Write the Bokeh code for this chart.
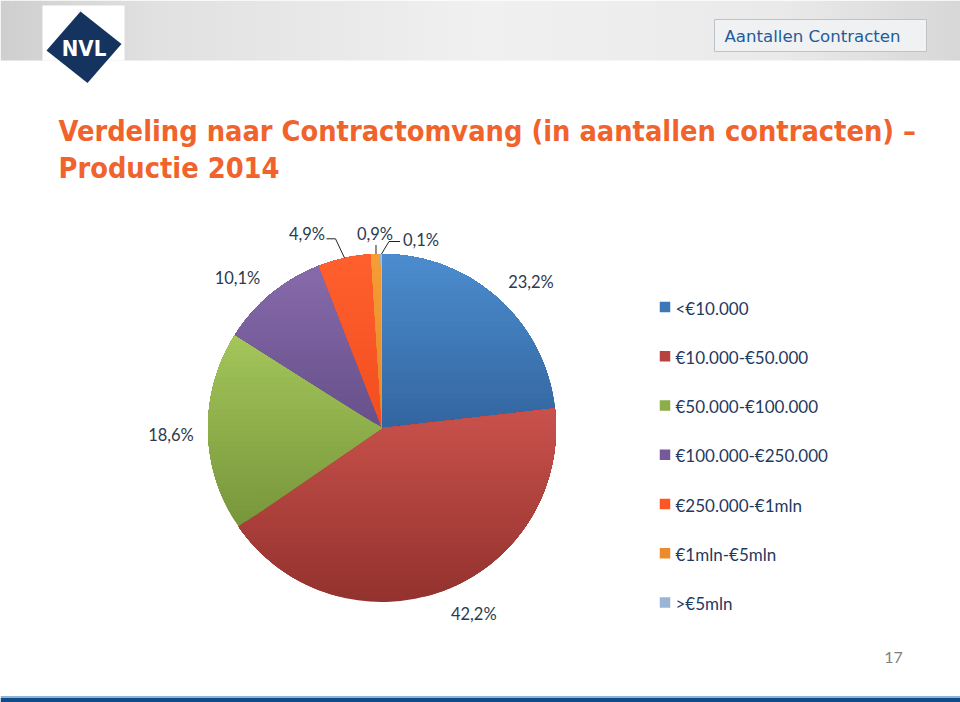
import numpy as np
from bokeh.plotting import figure
from bokeh.models import ColumnDataSource, Range1d
from bokeh.core.properties import value
from bokeh.embed import file_html
from bokeh.resources import INLINE

# ---------------- data ----------------
categories = ["<€10.000", "€10.000-€50.000", "€50.000-€100.000", "€100.000-€250.000",
              "€250.000-€1mln", "€1mln-€5mln", ">€5mln"]
shares = [23.2, 42.2, 18.6, 10.1, 4.9, 0.9, 0.1]
share_labels = ["23,2%", "42,2%", "18,6%", "10,1%", "4,9%", "0,9%", "0,1%"]
title_lines = ["Verdeling naar Contractomvang (in aantallen contracten) –", "Productie 2014"]
header_tag = "Aantallen Contracten"
page_number = "17"

# ---------------- styles ----------------
top_cols = ["#4C8CCE", "#C9514B", "#A3C55A", "#876AAB", "#FF5F2D", "#F69D36", "#A8C0E0"]
bot_cols = ["#3366A0", "#93322E", "#78963B", "#66508A", "#F24E20", "#E4882A", "#8CA6CB"]
leg_cols = ["#3C78B7", "#B8423D", "#8CAD4A", "#76599B", "#FC5526", "#EB8B2D", "#9AB4D6"]

W, H = 960, 702
def Y(py):
    return H - py

p = figure(width=W, height=H, output_backend="svg", toolbar_location=None,
           x_range=Range1d(0, W), y_range=Range1d(0, H),
           min_border=0, min_border_left=0, min_border_right=0,
           min_border_top=0, min_border_bottom=0)
p.axis.visible = False
p.xgrid.visible = False
p.ygrid.visible = False
p.outline_line_color = None
p.background_fill_color = "white"
p.border_fill_color = "white"

def hexc(c):
    return np.array([int(c[i:i + 2], 16) for i in (1, 3, 5)], dtype=float)

def tohex(a):
    a = np.clip(np.round(a), 0, 255).astype(int)
    return "#%02x%02x%02x" % tuple(a)

# ---------------- header band ----------------
xs_edges = np.arange(0, 961, 8)
gx = [0, 160, 480, 780, 960]
gv = [0xCF, 0xE1, 0xF0, 0xEA, 0xD7]
hcols = []
for i in range(len(xs_edges) - 1):
    g = np.interp((xs_edges[i] + xs_edges[i + 1]) / 2, gx, gv)
    hcols.append(tohex([g, g, g]))
p.quad(left=xs_edges[:-1], right=xs_edges[1:] + 0.6, top=Y(0), bottom=Y(60),
       fill_color=hcols, line_color=None)

# logo
p.quad(left=42, right=124, top=Y(5), bottom=Y(60), fill_color="white", line_color=None)
p.patch(x=[80, 121, 87, 46], y=[Y(11), Y(43.5), Y(82.5), Y(50)],
        fill_color="#14335F", line_color=None)
p.text(x=[83.5], y=[Y(48)], text=["NVL"], text_font=value("DejaVu Sans Condensed"),
       text_font_style="bold", text_font_size="22px", text_color="white",
       text_align="center", text_baseline="middle")

# tag box
p.quad(left=714, right=926, top=Y(19), bottom=Y(51), fill_color="#EFF1F3",
       line_color="#BEC2C6", line_width=1)
p.text(x=[724], y=[Y(36)], text=[header_tag], text_font=value("DejaVu Sans"),
       text_font_size="16.6px", text_color="#1F5C99", text_align="left",
       text_baseline="middle")

# title
p.text(x=[58, 58], y=[Y(130.7), Y(167.3)], text=title_lines,
       text_font=value("DejaVu Sans Condensed"), text_font_style="bold",
       text_font_size="28.7px", text_color="#F0632C",
       text_align="left", text_baseline="alphabetic")

# ---------------- pie ----------------
cx, cy, r = 381.5, Y(427.5), 174.0
fr = np.array(shares) / sum(shares)
cum = np.concatenate([[0], np.cumsum(fr)])
start = np.pi / 2 - 2 * np.pi * cum[:-1]
end = np.pi / 2 - 2 * np.pi * cum[1:]

src = ColumnDataSource(dict(cat=categories, start=start, end=end, color=bot_cols))
p.wedge(x=cx, y=cy, radius=r, start_angle="start", end_angle="end",
        direction="clock", fill_color="color", line_color=None, source=src)

def clip_above(xs, ys, c):
    ox, oy = [], []
    n = len(xs)
    for i in range(n):
        x1, y1 = xs[i], ys[i]
        x2, y2 = xs[(i + 1) % n], ys[(i + 1) % n]
        in1, in2 = y1 >= c, y2 >= c
        if in1:
            ox.append(x1); oy.append(y1)
        if in1 != in2:
            t = (c - y1) / (y2 - y1)
            ox.append(x1 + t * (x2 - x1)); oy.append(c)
    return ox, oy

NSTEP = 36
gxs, gys, gcs = [], [], []
for i in range(len(shares)):
    npts = max(4, int(abs(start[i] - end[i]) / (2 * np.pi) * 720))
    ang = np.linspace(start[i], end[i], npts)
    wx = list(cx + r * np.cos(ang)) + [cx]
    wy = list(cy + r * np.sin(ang)) + [cy]
    ymin, ymax = min(wy), max(wy)
    ct, cb = hexc(top_cols[i]), hexc(bot_cols[i])
    for k in range(1, NSTEP):
        c = ymin + (ymax - ymin) * k / NSTEP
        ox, oy = clip_above(wx, wy, c)
        if len(ox) < 3:
            continue
        t = k / (NSTEP - 1)
        gxs.append(ox); gys.append(oy); gcs.append(tohex(cb + (ct - cb) * t))
p.patches(xs=gxs, ys=gys, fill_color=gcs, line_color=None)

# leader lines for small slices (computed from slice mid angles)
mid = np.pi / 2 - 2 * np.pi * (cum[:-1] + fr / 2)
ex = cx + r * np.cos(mid)
ey = cy + r * np.sin(mid)
p.line(x=[326, 335, ex[4]], y=[Y(238.3), Y(238.3), ey[4]], line_color="#222222", line_width=1)
p.line(x=[ex[5], ex[5]], y=[Y(244.5), ey[5]], line_color="#222222", line_width=1)
p.line(x=[399.5, 388.5, ex[6]], y=[Y(241), Y(241), ey[6]], line_color="#222222", line_width=1)

# percentage labels
lab_x = [530.5, 473.3, 170.5, 237, 306.5, 374.5, 420.5]
lab_y = [Y(281), Y(613.3), Y(434.5), Y(277.5), Y(233.5), Y(233), Y(239)]
p.text(x=lab_x, y=lab_y, text=share_labels, text_font=value("Lato"),
       text_font_size="16.5px", text_color="#2C3A4F", text_align="center",
       text_baseline="middle")

# ---------------- legend ----------------
leg_y = [Y(306.5 + 49.25 * i) for i in range(len(categories))]
lsrc = ColumnDataSource(dict(y=leg_y, cat=categories, color=leg_cols))
p.rect(x=664.5, y="y", width=10.5, height=10.5, fill_color="color", line_color=None,
       source=lsrc)
p.text(x=675, y="y", text="cat", text_font=value("Lato"), text_font_size="17px",
       text_color="#1F3A5F", text_align="left", text_baseline="middle", source=lsrc,
       y_offset=1)

# page number
p.text(x=[893], y=[Y(657)], text=[page_number], text_font=value("Lato"),
       text_font_size="16px", text_color="#7F7F7F", text_align="center",
       text_baseline="middle")

# bottom bar
p.quad(left=0, right=960, top=Y(695.5), bottom=Y(697.5), fill_color="#8FB2D8", line_color=None)
p.quad(left=0, right=960, top=Y(697.5), bottom=Y(702), fill_color="#0E4B88", line_color=None)

open("out.html", "w").write(file_html(p, INLINE))
